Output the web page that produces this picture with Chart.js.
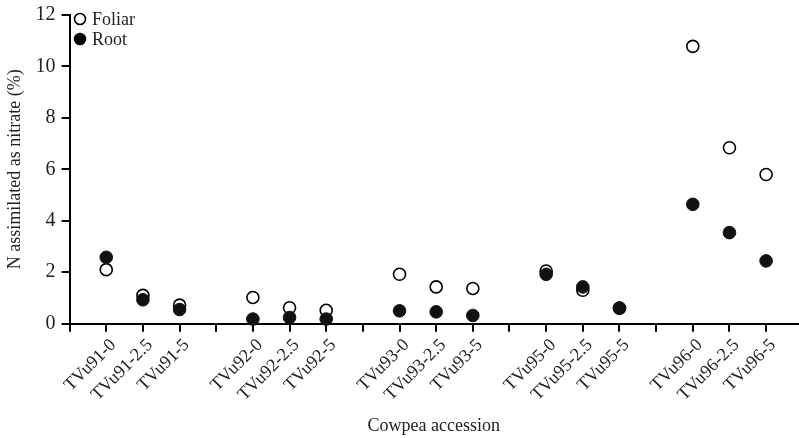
<!DOCTYPE html>
<html>
<head>
<meta charset="utf-8">
<script src="https://cdn.jsdelivr.net/npm/chart.js@4/dist/chart.umd.min.js"></script>
<style>
  html, body { margin: 0; padding: 0; background: #fff; }
  #wrap { width: 799px; height: 438px; }
</style>
</head>
<body>
<div id="wrap"><canvas id="chart"></canvas></div>
<script>
'use strict';

// accessions, three per group, a blank slot between groups
const accessions = [
  'TVu91-0', 'TVu91-2.5', 'TVu91-5',
  'TVu92-0', 'TVu92-2.5', 'TVu92-5',
  'TVu93-0', 'TVu93-2.5', 'TVu93-5',
  'TVu95-0', 'TVu95-2.5', 'TVu95-5',
  'TVu96-0', 'TVu96-2.5', 'TVu96-5'
];
const foliar = [2.1, 1.1, 0.72, 1.02, 0.62, 0.52, 1.92, 1.43, 1.37, 2.05, 1.3, 0.6, 10.78, 6.84, 5.8];
const root = [2.58, 0.93, 0.55, 0.18, 0.24, 0.18, 0.5, 0.46, 0.32, 1.92, 1.43, 0.61, 4.64, 3.54, 2.44];
const yTicks = [0, 2, 4, 6, 8, 10, 12];

const groupSize = 3;
const font = 'Liberation Serif';

const slotLabels = {};
function toPoints(values) {
  const pts = [];
  for (let i = 0; i < values.length; i++) {
    const slot = i + Math.floor(i / groupSize);
    slotLabels[slot] = accessions[i];
    pts.push({ x: slot, y: values[i] });
  }
  return pts;
}

const legendPlugin = {
  id: 'cornerLegend',
  afterDraw(chart) {
    const ctx = chart.ctx;
    const items = [
      { text: 'Foliar', fill: '#fff', y: 19 },
      { text: 'Root', fill: '#000', y: 39 }
    ];
    ctx.save();
    ctx.font = '18px "' + font + '"';
    ctx.textBaseline = 'middle';
    items.forEach(it => {
      ctx.beginPath();
      ctx.arc(80, it.y, 5.5, 0, Math.PI * 2);
      ctx.fillStyle = it.fill;
      ctx.fill();
      ctx.lineWidth = 1.6;
      ctx.strokeStyle = '#000';
      ctx.stroke();
      ctx.fillStyle = '#222';
      ctx.fillText(it.text, 92, it.y + 1);
    });
    ctx.restore();
  }
};

const data = {
  datasets: [
    {
      label: 'Foliar',
      data: toPoints(foliar),
      pointRadius: 6,
      pointBorderWidth: 1.6,
      pointBackgroundColor: '#fff',
      pointBorderColor: '#000',
      showLine: false,
      clip: false,
      order: 1
    },
    {
      label: 'Root',
      data: toPoints(root),
      pointRadius: 6.3,
      pointBorderWidth: 1,
      pointBackgroundColor: '#111',
      pointBorderColor: '#111',
      showLine: false,
      clip: false,
      order: 0
    }
  ]
};

const config = {
  type: 'scatter',
  data: data,
  options: {
    responsive: true,
    maintainAspectRatio: false,
    animation: false,
    events: [],
    layout: { autoPadding: false, padding: { top: 15, right: 1, bottom: 1, left: 4 } },
    plugins: {
      legend: { display: false },
      tooltip: { enabled: false }
    },
    scales: {
      x: {
        type: 'linear',
        min: -1,
        max: 18.87,
        afterBuildTicks(scale) {
          const ticks = [];
          for (let v = -1; v <= 18; v++) ticks.push({ value: v });
          scale.ticks = ticks;
        },
        afterFit(scale) {
          scale.paddingRight = 0;
        },
        border: { display: true, color: '#000', width: 2 },
        grid: { drawOnChartArea: false, color: '#000', lineWidth: 2, tickLength: 8 },
        ticks: {
          autoSkip: false,
          maxRotation: 45,
          minRotation: 45,
          padding: 3,
          labelOffset: 7,
          color: '#222',
          font: { family: font, size: 18 },
          callback: v => slotLabels[v] || ''
        },
        title: {
          display: true,
          text: 'Cowpea accession',
          color: '#222',
          font: { family: font, size: 18 },
          padding: { top: 7, bottom: 0 }
        }
      },
      y: {
        min: 0,
        max: 12,
        afterBuildTicks(scale) {
          scale.ticks = yTicks.map(v => ({ value: v }));
        },
        afterFit(scale) {
          scale.paddingTop = 0;
        },
        border: { display: true, color: '#000', width: 2 },
        grid: { drawOnChartArea: false, color: '#000', lineWidth: 2, tickLength: 8 },
        ticks: {
          padding: 6,
          color: '#222',
          font: { family: font, size: 20 }
        },
        title: {
          display: true,
          text: 'N assimilated as nitrate (%)',
          color: '#222',
          font: { family: font, size: 18 },
          padding: { top: 0, bottom: 4 }
        }
      }
    }
  },
  plugins: [legendPlugin]
};

const myChart = new Chart(document.getElementById('chart'), config);
</script>
</body>
</html>
